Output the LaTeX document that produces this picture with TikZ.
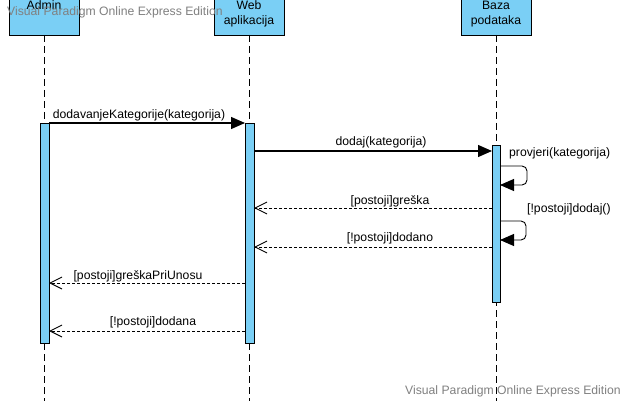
\documentclass[tikz,border=0pt]{standalone}
\usepackage{fontspec}
\setmainfont{Liberation Sans}
\usetikzlibrary{arrows.meta}
\definecolor{vpblue}{RGB}{122,207,245}
\definecolor{vpgray}{RGB}{128,128,128}
\begin{document}
\begin{tikzpicture}[x=1pt,y=-1pt,
 lbl/.style={font=\fontsize{12.2}{15}\selectfont, inner sep=0pt, anchor=base},
 headbox/.style={draw=black, fill=vpblue, line width=0.9pt, inner sep=0pt, outer sep=0pt, minimum width=70pt, minimum height=45pt, anchor=south west},
 actbar/.style={draw=black, fill=vpblue, line width=0.9pt, inner sep=0pt, outer sep=0pt, anchor=north west},
 lifeline/.style={draw=black, dash pattern=on 7pt off 4pt, line width=0.8pt},
 callmsg/.style={line width=1.2pt, -{Triangle[length=14pt,width=12pt]}},
 selfmsg/.style={line width=0.9pt, rounded corners=5pt, -{Triangle[length=14pt,width=12pt]}},
 retmsg/.style={line width=0.9pt, dash pattern=on 3pt off 2pt, -{Straight Barb[length=12pt,width=12pt]}},
 wm/.style={lbl, text=vpgray}]
\clip (0,0) rectangle (629,401);
\fill[white] (0,0) rectangle (629,401);
% heads
\node[headbox] (hA) at (9,35) {};
\node[headbox] (hW) at (214,35) {};
\node[headbox] (hB) at (461,35) {};
\node[lbl] (tA) at (44,9.3) {Admin};
\node[lbl] (tW1) at (249,9.5) {Web};
\node[lbl] (tW2) at (249,25) {aplikacija};
\node[lbl] (tB1) at (496,10) {Baza};
\node[lbl] (tB2) at (496,25) {podataka};
% lifeline ends
\coordinate (eA) at (44,405);
\coordinate (eW) at (249,405);
\coordinate (eB) at (496,405);
\draw[lifeline] (hA.south) -- (eA);
\draw[lifeline] (hW.south) -- (eW);
\draw[lifeline] (hB.south) -- (eB);
% activation bars
\node[actbar, minimum width=9pt, minimum height=220pt] (barA) at (40,123) {};
\node[actbar, minimum width=9pt, minimum height=220pt] (barW) at (245,123) {};
\node[actbar, minimum width=8pt, minimum height=157pt] (barB) at (492,145) {};
% messages
\draw[callmsg] (barA.north east) -- (barW.north west);
\node[lbl] (l1) at (139,119) {dodavanjeKategorije(kategorija)};
\draw[callmsg] (barW.east |- 0,151) -- (barB.west |- 0,151);
\node[lbl] (l2) at (381,145.7) {dodaj(kategorija)};
\draw[selfmsg] (barB.east |- 0,166) -- (527,166) -- (527,185) -- (barB.east |- 0,185);
\node[lbl, anchor=base west] (l3) at (509,157) {provjeri(kategorija)};
\draw[retmsg] (barB.west |- 0,208) -- (barW.east |- 0,208);
\node[lbl] (l4) at (390,204) {[postoji]greška};
\draw[selfmsg] (barB.east |- 0,221) -- (526,221) -- (526,240) -- (barB.east |- 0,240);
\node[lbl, anchor=base west] (l5) at (527,212.7) {[!postoji]dodaj()};
\draw[retmsg] (barB.west |- 0,247) -- (barW.east |- 0,247);
\node[lbl] (l6) at (390,241) {[!postoji]dodano};
\draw[retmsg] (barW.west |- 0,283) -- (barA.east |- 0,283);
\node[lbl] (l7) at (138,279) {[postoji]greškaPriUnosu};
\draw[retmsg] (barW.west |- 0,331) -- (barA.east |- 0,331);
\node[lbl] (l8) at (153,325) {[!postoji]dodana};
% watermarks
\node[wm, anchor=base west] (w1) at (7,16) {Visual Paradigm Online Express Edition};
\node[wm, anchor=base west] (w2) at (405,394.5) {Visual Paradigm Online Express Edition};
\end{tikzpicture}
\end{document}
